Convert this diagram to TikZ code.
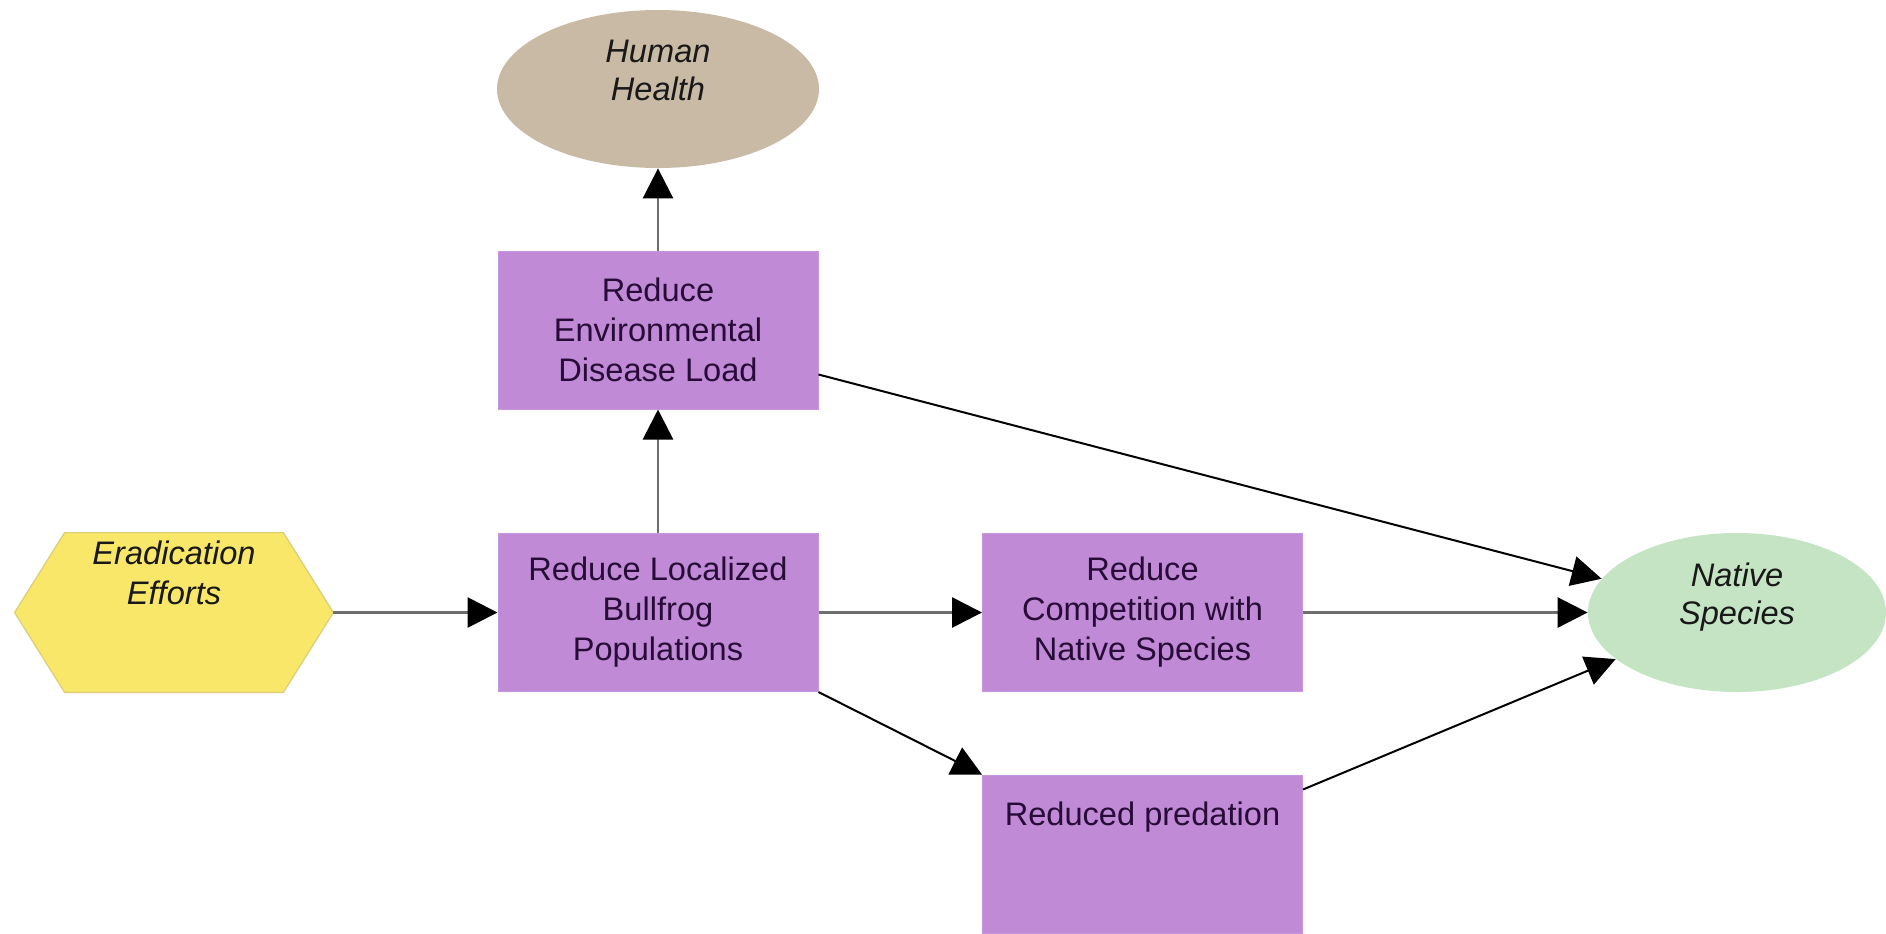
\documentclass[tikz,border=0pt]{standalone}
\usepackage{fontspec}
\setmainfont{Liberation Sans}
\usetikzlibrary{arrows.meta,calc,shapes.geometric}
\definecolor{boxfill}{RGB}{192,138,214}
\definecolor{boxline}{RGB}{200,150,220}
\definecolor{boxtext}{RGB}{40,12,56}
\definecolor{tanfill}{RGB}{201,186,166}
\definecolor{greenfill}{RGB}{196,228,196}
\definecolor{yelfill}{RGB}{248,231,104}
\definecolor{yelline}{RGB}{220,205,120}
\definecolor{linegray}{RGB}{110,110,110}
\begin{document}
\begin{tikzpicture}[x=0.5pt,y=-0.5pt,
  txt/.style={font=\fontsize{16.3pt}{20pt}\selectfont, align=center, inner sep=0pt},
  pbox/.style={txt, rectangle, fill=boxfill, draw=boxline, line width=0.5pt, text=boxtext, minimum width=160pt, minimum height=79pt},
  oval/.style={txt, ellipse, draw=none, text=black!90, font=\fontsize{16.3pt}{19pt}\selectfont\itshape},
  conn/.style={draw=linegray, line width=1.4pt, -{Triangle[length=15pt,width=15pt,color=black]}},
  dconn/.style={draw=black, line width=1pt, -{Triangle[length=15pt,width=15pt,color=black]}}
]
\useasboundingbox (0,0) rectangle (1886,933);
\fill[white] (0,0) rectangle (1886,933);

% nodes
\node[oval, fill=tanfill, minimum width=161pt, minimum height=79pt] (hh) at (658,89) {Human\\Health\\\mbox{}};
\node[pbox] (env) at (658,330) {Reduce\\Environmental\\Disease Load};
\node[pbox] (bull) at (658,612.5) {Reduce Localized\\Bullfrog\\Populations};
\node[pbox] (comp) at (1142.5,612.5) {Reduce\\Competition with\\Native Species};
\node[pbox] (pred) at (1142.5,854) {Reduced predation\\\mbox{}\\\mbox{}};
\node[oval, fill=greenfill, minimum width=149pt, minimum height=79.5pt] (nat) at (1737,612.5) {Native\\Species\\\mbox{}};

% hexagon
\node[txt, minimum width=159pt, minimum height=79.5pt] (erad) at (174,612.5) {};
\filldraw[fill=yelfill, draw=yelline, line width=0.6pt]
  (erad.west) -- ($(erad.north west)+(50,0)$) -- ($(erad.north east)+(-50,0)$) -- (erad.east)
  -- ($(erad.south east)+(-50,0)$) -- ($(erad.south west)+(50,0)$) -- cycle;
\node[txt, font=\fontsize{16.3pt}{20pt}\selectfont\itshape, text=black!90] (eradtxt) at (erad) {Eradication\\Efforts\\\mbox{}\\\mbox{}};

% connectors
\coordinate (envout) at ($(env.south east)+(0,-35)$);
\coordinate (predout) at ($(pred.north east)+(0,15)$);
\draw[conn] (erad.east) -- (bull.west);
\draw[conn] (bull.north) -- (env.south);
\draw[conn] (env.north) -- (hh.south);
\draw[conn] (bull.east) -- (comp.west);
\draw[conn] (comp.east) -- (nat.west);
\draw[dconn] (envout) -- (nat.166);
\draw[dconn] (bull.south east) -- (pred.north west);
\draw[dconn] (predout) -- (nat.201);
\end{tikzpicture}
\end{document}
